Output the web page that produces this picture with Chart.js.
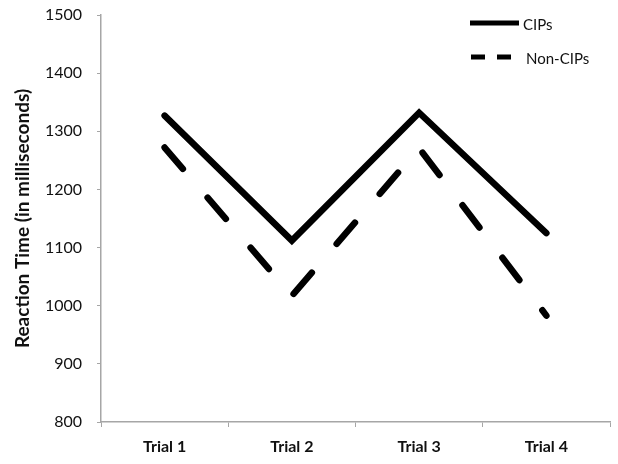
<!DOCTYPE html>
<html>
<head>
<meta charset="utf-8">
<script src="https://cdn.jsdelivr.net/npm/chart.js@4.4.0/dist/chart.umd.min.js"></script>
<style>
    html, body { margin: 0; padding: 0; background: #fff; }
    #wrap { width: 618px; height: 464px; }
</style>
</head>
<body>
<div id="wrap"><canvas id="rtChart" width="618" height="464"></canvas></div>
<script>
// 차트 데이터
const trialLabels = ['Trial 1', 'Trial 2', 'Trial 3', 'Trial 4'];
const seriesNames = ['CIPs', 'Non-CIPs'];
const cipsValues = [1327, 1112, 1332, 1125];
const nonCipsValues = [1272, 1017, 1271, 983];
const yMin = 800;
const yMax = 1500;
const yStep = 100;
const yTitle = 'Reaction Time (in milliseconds)';

const fontFamily = 'Lato, "Open Sans", sans-serif';

// 오른쪽 위 범례 (선 모양 그대로)
const cornerLegend = {
    id: 'cornerLegend',
    afterDraw(chart) {
        const ctx = chart.ctx;
        ctx.save();
        ctx.strokeStyle = '#000';
        ctx.fillStyle = '#111';
        ctx.font = '15px ' + fontFamily;
        ctx.textBaseline = 'middle';

        // CIPs
        ctx.beginPath();
        ctx.lineWidth = 5;
        ctx.lineCap = 'butt';
        ctx.setLineDash([]);
        ctx.moveTo(470, 23);
        ctx.lineTo(519, 23);
        ctx.stroke();
        ctx.fillText(chart.data.datasets[0].label, 523, 25);

        // Non-CIPs
        ctx.beginPath();
        ctx.setLineDash([14, 12]);
        ctx.moveTo(471, 57);
        ctx.lineTo(511, 57);
        ctx.stroke();
        ctx.fillText(chart.data.datasets[1].label, 526, 59);

        ctx.restore();
    }
};

const ctx = document.getElementById('rtChart').getContext('2d');

new Chart(ctx, {
    type: 'line',
    data: {
        labels: trialLabels,
        datasets: [{
            label: seriesNames[0],
            data: cipsValues,
            borderColor: '#000',
            borderWidth: 6.5,
            borderCapStyle: 'round',
            borderJoinStyle: 'miter',
            pointRadius: 0,
            tension: 0,
            fill: false
        }, {
            label: seriesNames[1],
            data: nonCipsValues,
            borderColor: '#000',
            borderWidth: 6.5,
            borderDash: [28, 38],
            borderCapStyle: 'round',
            borderJoinStyle: 'miter',
            pointRadius: 0,
            tension: 0,
            fill: false
        }]
    },
    options: {
        responsive: false,
        animation: false,
        layout: {
            padding: { top: 15, right: 8, left: 0, bottom: 0 }
        },
        plugins: {
            legend: { display: false },
            tooltip: { enabled: false }
        },
        scales: {
            x: {
                offset: true,
                grid: {
                    offset: true,
                    drawOnChartArea: false,
                    color: '#a6a6a6',
                    tickLength: 5
                },
                border: { color: '#a6a6a6', width: 1.5 },
                ticks: {
                    color: '#111',
                    padding: 10,
                    font: { family: fontFamily, size: 16, weight: 'bold' }
                },
                afterFit(scale) {
                    scale.height = 42;
                    scale.paddingLeft = 0;
                    scale.paddingRight = 0;
                }
            },
            y: {
                min: yMin,
                max: yMax,
                grid: {
                    drawOnChartArea: false,
                    color: '#a6a6a6',
                    tickLength: 4
                },
                border: { color: '#a6a6a6', width: 1.5 },
                ticks: {
                    stepSize: yStep,
                    color: '#111',
                    padding: 15,
                    font: { family: fontFamily, size: 16 },
                    callback: (value) => String(value)
                },
                title: {
                    display: true,
                    text: yTitle,
                    color: '#111',
                    padding: { top: 11, bottom: 0 },
                    font: { family: fontFamily, size: 19, weight: 'bold' }
                },
                afterFit(scale) {
                    scale.width = 101;
                    scale.paddingTop = 0;
                    scale.paddingBottom = 0;
                }
            }
        }
    },
    plugins: [cornerLegend]
});
</script>
</body>
</html>
